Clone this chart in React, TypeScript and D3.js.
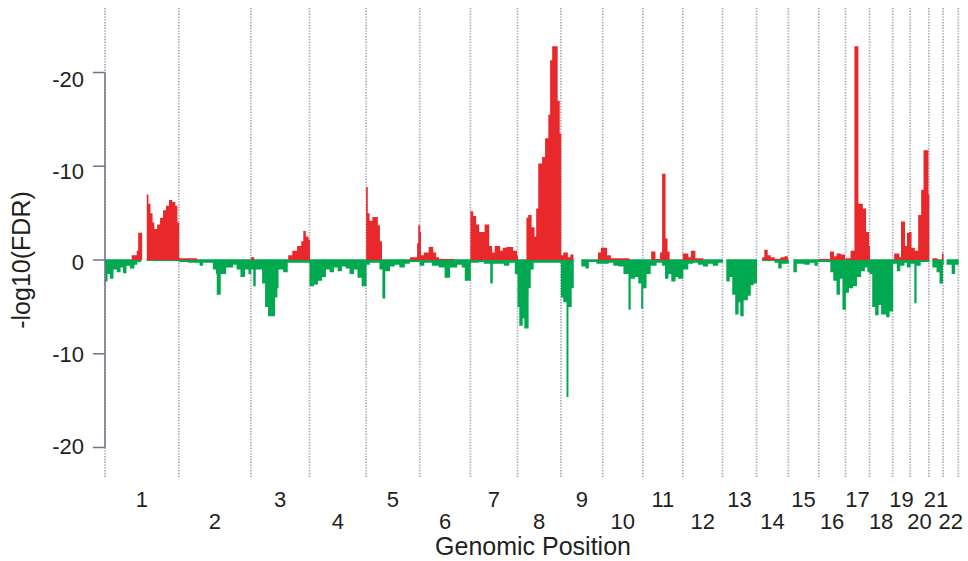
import React from "react";
import * as d3 from "d3";

// Chromosome names and lengths (Mb, hg19)
const CHROMOSOMES = ["1","2","3","4","5","6","7","8","9","10","11","12","13","14","15","16","17","18","19","20","21","22"];
const CHROM_LENGTH_MB = [249.3, 243.2, 198.0, 191.2, 180.9, 171.1, 159.1, 146.4, 141.2, 135.5, 135.0, 133.9, 115.2, 107.3, 102.5, 90.4, 81.2, 78.1, 59.1, 63.0, 48.1, 51.3];

// Amplification significance: [chromosome, start Mb, end Mb, score]
const GAIN: [number, number, number, number][] = [
  [1, 90, 107, 0.5], [1, 107, 112, 1.0], [1, 112, 124, 2.9],
  [1, 141, 145, 7.0], [1, 145, 152, 6.0], [1, 152, 159, 5.0], [1, 159, 165, 4.0], [1, 165, 176, 3.3],
  [1, 176, 186, 3.8], [1, 186, 196, 4.5], [1, 196, 206, 5.3], [1, 206, 216, 5.8], [1, 216, 226, 6.4],
  [1, 226, 236, 6.2], [1, 236, 243, 5.8], [1, 243, 249, 4.0],
  [2, 0, 60, 0.2],
  [3, 0, 10, 0.3], [3, 126, 140, 0.5], [3, 140, 156, 1.0], [3, 156, 170, 1.5], [3, 170, 177, 2.0],
  [3, 177, 184, 3.1], [3, 184, 193, 2.5], [3, 193, 198, 2.2],
  [5, 0, 4, 7.8], [5, 4, 10, 5.0], [5, 10, 21, 4.2], [5, 21, 38, 4.6], [5, 38, 45, 3.7], [5, 45, 52, 2.0],
  [5, 148, 172, 0.3], [5, 172, 176, 1.8], [5, 176, 181, 3.7],
  [6, 0, 2, 3.0], [6, 2, 14, 0.5], [6, 14, 30, 0.8], [6, 30, 44, 1.4], [6, 44, 54, 0.8], [6, 54, 64, 0.3], [6, 64, 115, 0.1],
  [7, 0, 8, 5.2], [7, 8, 18, 4.7], [7, 18, 28, 3.8], [7, 28, 48, 3.0], [7, 48, 62, 3.8], [7, 62, 72, 1.5],
  [7, 72, 82, 0.8], [7, 82, 99, 1.5], [7, 99, 109, 1.0], [7, 109, 122, 1.3], [7, 122, 143, 1.4], [7, 143, 156, 1.0], [7, 156, 159, 0.5],
  [8, 30, 36, 4.5], [8, 36, 46, 4.8], [8, 46, 56, 3.5], [8, 56, 63, 2.5], [8, 63, 70, 5.5], [8, 70, 83, 10.3],
  [8, 83, 93, 11.0], [8, 93, 104, 13.0], [8, 104, 110, 15.5], [8, 110, 117, 21.3], [8, 117, 134, 22.8],
  [8, 134, 141, 17.0], [8, 141, 146, 13.5],
  [9, 0, 8, 0.5], [9, 8, 22, 0.8], [9, 22, 32, 0.3], [9, 32, 41, 0.6], [9, 125, 135, 0.8], [9, 135, 141, 1.3],
  [10, 0, 13, 1.3], [10, 13, 26, 0.5], [10, 26, 88, 0.2],
  [11, 28, 41, 0.9], [11, 41, 58, 0.1], [11, 58, 65, 0.8], [11, 65, 75, 9.2], [11, 75, 82, 2.3], [11, 82, 89, 0.9],
  [12, 0, 17, 0.7], [12, 17, 27, 0.3], [12, 27, 41, 1.0], [12, 41, 68, 0.2],
  [14, 19, 26, 0.3], [14, 26, 36, 1.1], [14, 36, 46, 0.5], [14, 46, 60, 0.3], [14, 60, 80, 0.1], [14, 80, 94, 0.3], [14, 94, 104, 0.4],
  [16, 0, 36, 0.1], [16, 38, 50, 0.9], [16, 50, 60, 0.4], [16, 60, 73, 0.7], [16, 73, 87, 0.6],
  [17, 0, 17, 0.2], [17, 17, 30, 1.0], [17, 30, 42, 22.8], [17, 42, 57, 6.0], [17, 57, 68, 5.5], [17, 68, 78, 3.0], [17, 78, 81, 1.5],
  [19, 5, 21, 0.7], [19, 21, 28, 0.3], [19, 28, 40, 4.1], [19, 40, 48, 1.5], [19, 48, 55, 2.9], [19, 55, 59, 3.0],
  [20, 0, 3, 3.0], [20, 3, 14, 1.3], [20, 14, 27, 1.0], [20, 27, 37, 4.8], [20, 37, 45, 7.5], [20, 45, 60, 11.7], [20, 60, 63, 7.0],
  [21, 12, 28, 0.2], [21, 44, 48, 0.7],
];

// Deletion significance: [chromosome, start Mb, end Mb, score]
const LOSS: [number, number, number, number][] = [
  [1, 0, 7, -2.3], [1, 7, 17, -1.5], [1, 17, 27, -2.0], [1, 27, 40, -1.0], [1, 40, 51, -1.3], [1, 51, 61, -0.8],
  [1, 61, 71, -1.4], [1, 71, 84, -0.6], [1, 84, 98, -0.9], [1, 98, 108, -0.5], [1, 108, 121, -0.2], [1, 141, 249, -0.1],
  [2, 0, 30, -0.2], [2, 30, 70, -0.3], [2, 70, 80, -0.6], [2, 80, 115, -0.3], [2, 115, 125, -1.0], [2, 125, 128, -1.5],
  [2, 128, 140, -3.7], [2, 140, 158, -1.5], [2, 158, 182, -0.8], [2, 182, 195, -0.5], [2, 195, 208, -1.0],
  [2, 208, 222, -1.8], [2, 222, 235, -1.0], [2, 235, 243, -1.5],
  [3, 0, 8, -1.0], [3, 8, 15, -2.8], [3, 15, 38, -1.0], [3, 38, 48, -2.5], [3, 48, 58, -5.0], [3, 58, 80, -6.0],
  [3, 80, 88, -4.0], [3, 88, 92, -3.0], [3, 92, 109, -1.0], [3, 109, 123, -1.3], [3, 123, 198, -0.3],
  [4, 0, 14, -2.8], [4, 14, 27, -2.6], [4, 27, 41, -2.2], [4, 41, 54, -1.8], [4, 54, 68, -1.0], [4, 68, 81, -1.3],
  [4, 81, 95, -0.8], [4, 95, 108, -1.2], [4, 108, 122, -0.7], [4, 122, 135, -0.9], [4, 135, 149, -1.5],
  [4, 149, 162, -1.0], [4, 162, 176, -1.9], [4, 176, 191, -2.8],
  [5, 0, 11, -0.5], [5, 11, 45, -0.3], [5, 45, 55, -1.0], [5, 55, 63, -4.1], [5, 63, 79, -1.2], [5, 79, 95, -0.7],
  [5, 95, 112, -0.5], [5, 112, 129, -0.8], [5, 129, 146, -0.4], [5, 146, 181, -0.2],
  [6, 0, 14, -0.6], [6, 14, 41, -0.3], [6, 41, 64, -0.6], [6, 64, 84, -0.8], [6, 84, 101, -1.9], [6, 101, 125, -0.8],
  [6, 125, 142, -0.5], [6, 142, 152, -0.8], [6, 152, 171, -2.2],
  [7, 0, 28, -0.3], [7, 28, 45, -0.2], [7, 45, 67, -0.4], [7, 67, 74, -2.5], [7, 74, 113, -0.4], [7, 113, 130, -0.6],
  [7, 130, 150, -0.3], [7, 150, 159, -1.5],
  [8, 0, 6, -5.0], [8, 6, 16, -7.0], [8, 16, 23, -6.2], [8, 23, 36, -7.3], [8, 36, 43, -3.0], [8, 43, 53, -1.0], [8, 53, 146, -0.3],
  [9, 0, 8, -4.0], [9, 8, 19, -4.5], [9, 19, 24, -14.6], [9, 24, 35, -5.0], [9, 35, 42, -3.0],
  [9, 69, 83, -0.7], [9, 83, 93, -0.9], [9, 93, 120, -0.2], [9, 120, 141, -0.4],
  [10, 0, 19, -0.4], [10, 19, 36, -0.3], [10, 36, 53, -0.6], [10, 53, 70, -0.7], [10, 70, 87, -1.5], [10, 87, 93, -5.3],
  [10, 93, 107, -2.0], [10, 107, 120, -1.8], [10, 120, 130, -2.5], [10, 130, 135, -5.2],
  [11, 0, 11, -3.0], [11, 11, 25, -1.5], [11, 25, 45, -0.6], [11, 45, 65, -0.3], [11, 65, 75, -0.6], [11, 75, 85, -2.0],
  [11, 85, 96, -1.5], [11, 96, 109, -2.3], [11, 109, 119, -1.8], [11, 119, 135, -2.0],
  [12, 0, 17, -1.0], [12, 17, 34, -0.4], [12, 34, 51, -0.3], [12, 51, 68, -0.5], [12, 68, 84, -0.7], [12, 84, 101, -0.4],
  [12, 101, 118, -0.6], [12, 118, 134, -0.3],
  [13, 13, 23, -2.3], [13, 23, 33, -1.8], [13, 33, 43, -3.7], [13, 43, 53, -5.8], [13, 53, 60, -4.5], [13, 60, 70, -6.0],
  [13, 70, 84, -4.3], [13, 84, 94, -3.8], [13, 94, 104, -2.7], [13, 104, 115, -2.5],
  [14, 19, 60, -0.1], [14, 60, 73, -0.3], [14, 73, 83, -0.9], [14, 83, 107, -0.4],
  [15, 17, 27, -1.3], [15, 27, 54, -0.4], [15, 54, 71, -0.5], [15, 71, 88, -0.3], [15, 88, 98, -0.6], [15, 98, 102, -0.2],
  [16, 0, 39, -0.2], [16, 39, 49, -1.3], [16, 49, 60, -2.2], [16, 60, 70, -3.7], [16, 70, 80, -2.0], [16, 80, 90, -5.3],
  [17, 0, 10, -3.5], [17, 10, 24, -3.0], [17, 24, 37, -2.8], [17, 37, 51, -1.8], [17, 51, 64, -1.2], [17, 64, 74, -0.8], [17, 74, 81, -1.3],
  [18, 0, 9, -1.5], [18, 9, 19, -5.0], [18, 19, 29, -5.9], [18, 29, 39, -4.8], [18, 39, 56, -5.8], [18, 56, 66, -6.1], [18, 66, 78, -5.5],
  [19, 0, 14, -0.4], [19, 14, 24, -1.2], [19, 24, 38, -0.6], [19, 38, 48, -0.3], [19, 48, 59, -0.8],
  [20, 0, 14, -0.4], [20, 14, 20, -4.6], [20, 20, 34, -0.6], [20, 34, 63, -0.2],
  [21, 12, 26, -0.8], [21, 26, 36, -1.3], [21, 36, 46, -2.5], [21, 46, 48, -0.5],
  [22, 12, 29, -0.5], [22, 29, 39, -1.5], [22, 39, 51, -0.5],
];

const Y_TICKS = [20, 10, 0, -10, -20];
const Y_TICK_LABELS = ["-20", "-10", "0", "-10", "-20"];

const WIDTH = 968;
const HEIGHT = 561;
const RED = "#e9282c";
const GREEN = "#00a84f";
const AXIS = "#6f7782";
const GRID = "#a9aeb8";
const TEXT = "#231f20";
const FONT = "'Liberation Sans', Arial, Helvetica, sans-serif";

export default function App() {
  const chromStart = [0, ...Array.from(d3.cumsum(CHROM_LENGTH_MB))];
  const genomeLength = chromStart[chromStart.length - 1];

  const x = d3.scaleLinear().domain([0, genomeLength]).range([105, 958.3]);
  const y = d3.scaleLinear().domain([-20, 20]).range([447.5, 72.5]);
  const yLabel = d3.scaleLinear().domain([-20, 20]).range([446.5, 79]);

  const gx = (chrom: number, mb: number) => x(chromStart[chrom - 1] + mb);
  const y0 = y(0);

  // one path per series; each bar overlaps its neighbour slightly so no seams show
  const barsPath = (segs: [number, number, number, number][]) => {
    const p = d3.path();
    segs.forEach(([c, s, e, v]) => {
      const x0 = gx(c, s);
      const w = Math.max(0.8, gx(c, e) - x0) + 0.45;
      const yv = y(v);
      const h = Math.max(1, Math.abs(yv - y0));
      p.rect(x0, v >= 0 ? y0 - h : y0, w, h);
    });
    return p.toString();
  };

  const zeroPath = (() => {
    const p = d3.path();
    LOSS.forEach(([c, s, e]) => {
      p.rect(gx(c, s), y0 - 0.8, gx(c, e) - gx(c, s) + 0.45, 1.6);
    });
    return p.toString();
  })();

  return (
    <svg
      width={WIDTH}
      height={HEIGHT}
      style={{ position: "absolute", left: 0, top: 0, background: "#fff" }}
      fontFamily={FONT}
    >
      {/* chromosome boundaries */}
      {chromStart.map((s, i) => (
        <line
          key={`b${i}`}
          x1={x(s)}
          x2={x(s)}
          y1={8}
          y2={477}
          stroke={GRID}
          strokeWidth={1.8}
          strokeDasharray="1.4 1.4"
        />
      ))}

      {/* deletions */}
      <path d={barsPath(LOSS)} fill={GREEN} />
      <path d={zeroPath} fill={GREEN} />
      {/* amplifications */}
      <path d={barsPath(GAIN)} fill={RED} />

      {/* y axis */}
      <line x1={105} x2={105} y1={y(20)} y2={y(-20)} stroke={AXIS} strokeWidth={1.5} />
      {Y_TICKS.map((t, i) => (
        <g key={`t${i}`}>
          <line x1={93} x2={105} y1={y(t)} y2={y(t)} stroke={AXIS} strokeWidth={1.5} />
          <text x={84} y={yLabel(t)} dy="0.35em" textAnchor="end" fontSize={22} fill={TEXT}>
            {Y_TICK_LABELS[i]}
          </text>
        </g>
      ))}
      <text
        transform={`translate(30, ${y0}) rotate(-90)`}
        textAnchor="middle"
        fontSize={25}
        fill={TEXT}
      >
        -log10(FDR)
      </text>

      {/* chromosome labels */}
      {CHROMOSOMES.map((name, i) => (
        <text
          key={`c${i}`}
          x={x((chromStart[i] + chromStart[i + 1]) / 2)}
          y={i % 2 === 0 ? 507 : 529}
          textAnchor="middle"
          fontSize={22}
          fill={TEXT}
        >
          {name}
        </text>
      ))}
      <text x={533} y={555} textAnchor="middle" fontSize={25} fill={TEXT}>
        Genomic Position
      </text>
    </svg>
  );
}
